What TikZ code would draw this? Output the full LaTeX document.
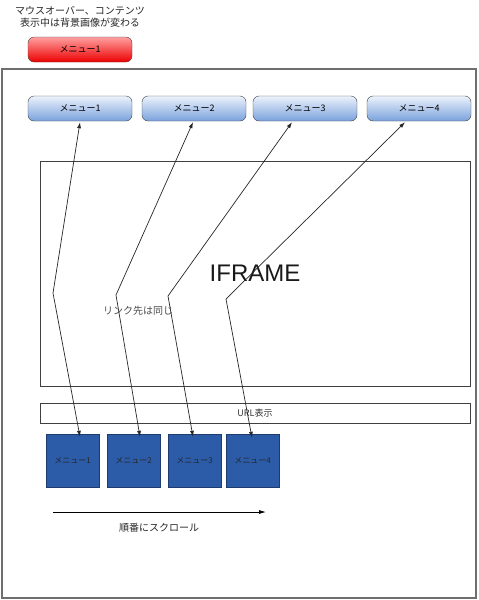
\documentclass[tikz,border=0pt]{standalone}
\usepackage{fontspec}
\setmainfont{Liberation Sans}
\newfontfamily\jp{Noto Sans CJK JP}
\usetikzlibrary{arrows.meta,positioning}

\definecolor{menutop}{RGB}{236,242,252}
\definecolor{menubot}{RGB}{122,162,220}
\definecolor{redtop}{RGB}{255,160,160}
\definecolor{redbot}{RGB}{236,0,0}
\definecolor{tilefill}{RGB}{44,92,168}
\definecolor{tileline}{RGB}{30,60,110}
\definecolor{framegray}{RGB}{110,110,110}

\begin{document}
\begin{tikzpicture}
			[x=1pt, y=-1pt,
			menu/.style={draw=black!75, rounded corners=6pt, minimum width=104pt, minimum height=25pt, inner sep=0pt, top color=menutop, bottom color=menubot, font=\jp\fontsize{9}{10}\selectfont},
			hover/.style={menu, top color=redtop, bottom color=redbot},
			tile/.style={draw=tileline, fill=tilefill, minimum width=53pt, minimum height=53pt, inner sep=0pt, font=\jp\fontsize{8}{9}\selectfont, text=black!85},
			link/.style={{Latex[length=6pt,width=4pt]}-{Latex[length=6pt,width=4pt]}, black!85, line width=0.7pt},
			note/.style={font=\jp\fontsize{10}{12}\selectfont, text=black!85, inner sep=0pt},]
			\useasboundingbox (0,0) rectangle (479,600);
			% page frame
			\draw[framegray, line width=1.6pt] (2,69) rectangle (476,598);

			% mouse over note
			\node[note, align=center] (hovernote) at (80,16.5) {マウスオーバー、コンテンツ\\表示中は背景画像が変わる};
			\node[hover] (hm1) at (80,49.5) {メニュー1};

			% top menus
			\node[menu] (m1) at (80,108.5) {メニュー1};
			\node[menu] (m2) at (194,108.5) {メニュー2};
			\node[menu] (m3) at (305,108.5) {メニュー3};
			\node[menu] (m4) at (419,108.5) {メニュー4};

			% iframe and url bar
			\node[draw=black!75, minimum width=430pt, minimum height=225pt, inner sep=0pt] (iframe) at (255,273.5) {};
			\node[font=\fontsize{24}{26}\selectfont, text=black!90] (iftext) at (255,273) {IFRAME};
			\node[note, text=black!70] (same) at (138,311) {リンク先は同じ};
			\node[draw=black!75, minimum width=430pt, minimum height=20pt, inner sep=0pt, font=\jp\fontsize{9}{10}\selectfont, text=black!80] (url) at (255,413) {URL表示};

			% bottom tiles
			\node[tile] (s1) at (72.5,460.5) {メニュー1};
			\node[tile] (s2) at (133.5,460.5) {メニュー2};
			\node[tile] (s3) at (194.5,460.5) {メニュー3};
			\node[tile] (s4) at (252.5,460.5) {メニュー4};

			% bends
			\coordinate (b1) at (53,293);
			\coordinate (b2) at (116,295);
			\coordinate (b3) at (168,296);
			\coordinate (b4) at (226,299);

			\draw[link] ([yshift=-1pt]m1.south) -- (b1) -- ([xshift=7.5pt,yshift=-3pt]s1.north);
			\draw[link] ([xshift=-1pt,yshift=-1pt]m2.south) -- (b2) -- ([xshift=6.5pt,yshift=-3pt]s2.north);
			\draw[link] ([xshift=-13pt,yshift=-1pt]m3.south) -- (b3) -- ([xshift=-1.5pt,yshift=-3pt]s3.north);
			\draw[link] ([xshift=-14pt,yshift=-1pt]m4.south) -- (b4) -- ([xshift=-0.5pt,yshift=-4pt]s4.north);

			% scroll arrow
			\coordinate (sc0) at (53,512);
			\coordinate (sc1) at (266,512);
			\draw[-{Latex[length=7pt,width=4pt]}, black, line width=0.8pt] (sc0) -- (sc1);
			\node[note] (scroll) at (159,528) {順番にスクロール};
			\end{tikzpicture}
\end{document}
